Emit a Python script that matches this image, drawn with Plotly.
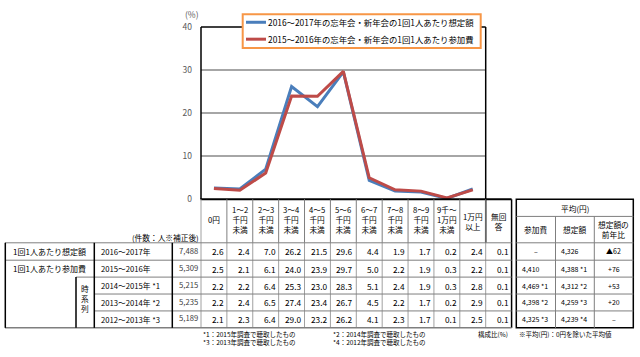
import plotly.graph_objects as go

W, H = 640, 357
FONT = "Noto Sans CJK JP"

# ---------------- data ----------------
header_lines = [["0円"], ["1～2", "千円", "未満"], ["2～3", "千円", "未満"], ["3～4", "千円", "未満"],
                ["4～5", "千円", "未満"], ["5～6", "千円", "未満"], ["6～7", "千円", "未満"],
                ["7～8", "千円", "未満"], ["8～9", "千円", "未満"], ["9千～", "1万円", "未満"],
                ["1万円", "以上"], ["無回", "答"]]
row_groups = ["1回1人あたり想定額", "1回1人あたり参加費"]
row_years = ["2016～2017年", "2015～2016年", "2014～2015年 *1", "2013～2014年 *2", "2012～2013年 *3"]
row_counts = ["7,488", "5,309", "5,215", "5,235", "5,189"]
est_2016_2017 = [2.6, 2.4, 7.0, 26.2, 21.5, 29.6, 4.4, 1.9, 1.7, 0.2, 2.4, 0.1]
spend_2015_2016 = [2.5, 2.1, 6.1, 24.0, 23.9, 29.7, 5.0, 2.2, 1.9, 0.3, 2.2, 0.1]
spend_2014_2015 = [2.2, 2.2, 6.4, 25.3, 23.0, 28.3, 5.1, 2.4, 1.9, 0.3, 2.8, 0.1]
spend_2013_2014 = [2.2, 2.4, 6.5, 27.4, 23.4, 26.7, 4.5, 2.2, 1.7, 0.2, 2.9, 0.1]
spend_2012_2013 = [2.1, 2.3, 6.4, 29.0, 23.2, 26.2, 4.1, 2.3, 1.7, 0.1, 2.5, 0.1]
avg_spend = ["–", "4,410", "4,469 *1", "4,398 *2", "4,325 *3"]
avg_est = ["4,326", "4,388 *1", "4,312 *2", "4,259 *3", "4,239 *4"]
avg_yoy = ["▲62", "+76", "+53", "+20", "–"]
legend_labels = ["2016～2017年の忘年会・新年会の1回1人あたり想定額",
                 "2015～2016年の忘年会・新年会の1回1人あたり参加費"]
notes = ["*1：2015年調査で聴取したもの", "*2：2014年調査で聴取したもの",
         "*3：2013年調査で聴取したもの", "*4：2012年調査で聴取したもの"]
y_ticks = [0, 10, 20, 30, 40]

BLUE = "#4a7ebb"
RED = "#be4b48"
ORANGE = "#f79646"

# ---------------- geometry (pixels) ----------------
X0, X1 = 201.0, 485.7           # plot area
Y0, Y40 = 199.0, 20.7
ncols = 12
cw = (X1 - X0) / 11
col_edges = [X0 + i * cw for i in range(ncols + 1)]
row_edges = [244.0, 262.0, 279.5, 297.0, 314.5, 332.0]

def px(x):
    return x / W

def py(y):
    return 1 - y / H

shapes = []
annotations = []

def line(x0, y0, x1, y1, color="black", width=1, layer="above"):
    shapes.append(dict(type="line", xref="paper", yref="paper", x0=px(x0), y0=py(y0),
                       x1=px(x1), y1=py(y1), line=dict(color=color, width=width), layer=layer))

def text(x, y, s, size=9, xanchor="center", color="black", align="center"):
    annotations.append(dict(x=px(x), y=py(y), xref="paper", yref="paper", text=s, showarrow=False,
                            xanchor=xanchor, yanchor="middle", borderpad=0, align=align,
                            font=dict(family=FONT, size=size, color=color)))

fig = go.Figure()
xs = list(range(11))
fig.add_trace(go.Scatter(x=xs, y=est_2016_2017[:11], mode="lines", line=dict(color=BLUE, width=3),
                         name=legend_labels[0], showlegend=False))
fig.add_trace(go.Scatter(x=xs, y=spend_2015_2016[:11], mode="lines", line=dict(color=RED, width=3),
                         name=legend_labels[1], showlegend=False))

# ---------------- plot frame ----------------
line(X0, Y40, X0, Y0, width=1.5)
line(X0, Y40, X1, Y40, width=1.5)
line(X1, Y40, X1, row_edges[0], width=1.5)
line(X0 - 0.5, Y0, col_edges[-1], Y0, width=2)

# legend
lx0, lx1, ly0, ly1 = 242.7, 480.7, 7.5, 42.3
shapes.append(dict(type="rect", xref="paper", yref="paper", x0=px(lx0), x1=px(lx1), y0=py(ly1), y1=py(ly0),
                   line=dict(color=ORANGE, width=2), fillcolor="white", layer="above"))
for i, (lab, col) in enumerate(zip(legend_labels, [BLUE, RED])):
    yy = 15.8 + i * 17.5
    line(246, yy, 266, yy, color=col, width=3)
    text(266.5, yy, lab, size=8.4, xanchor="left")

text(192, 7.5, "(%)", size=8.5, color="#595959")

# ---------------- table lines ----------------
GRAY = "#a0a0a0"
DGRAY = "#7f7f7f"
for i, xe in enumerate(col_edges[:-1]):
    if i == 0:
        line(xe, Y0, xe, row_edges[-1], color=GRAY, width=1)
    else:
        line(xe, Y0, xe, row_edges[0], color=DGRAY, width=1)
        line(xe, row_edges[0], xe, row_edges[-1], color=GRAY, width=1)
line(col_edges[-1], Y0, col_edges[-1], row_edges[-1], width=1.5)

line(5, row_edges[0], col_edges[-1], row_edges[0], color=DGRAY, width=1)
line(5, row_edges[1], col_edges[-1], row_edges[1], color=DGRAY, width=1)
line(76, row_edges[2], col_edges[-1], row_edges[2], color=DGRAY, width=1)
line(94.3, row_edges[3], col_edges[-1], row_edges[3], color=DGRAY, width=1)
line(94.3, row_edges[4], col_edges[-1], row_edges[4], color=DGRAY, width=1)
line(5, row_edges[5], col_edges[-1], row_edges[5], color=DGRAY, width=1.5)
line(5.3, row_edges[0], 5.3, row_edges[-1], width=1.5)
line(94.3, row_edges[0], 94.3, row_edges[-1], width=1.5)
line(172.3, row_edges[0], 172.3, row_edges[-1], width=1.5)
line(76, row_edges[2], 76, row_edges[-1], width=1.5)

# average table
ax0, ax1, ax2, ax3 = 516.3, 555.5, 594.3, 633.3
shapes.append(dict(type="rect", xref="paper", yref="paper", x0=px(ax0), x1=px(ax3), y0=py(row_edges[-1]),
                   y1=py(Y0), line=dict(color="black", width=1.5), layer="above"))
line(ax0, 216.7, ax3, 216.7, color=DGRAY, width=1)
line(ax1, 216.7, ax1, row_edges[-1], color=DGRAY, width=1)
line(ax2, 216.7, ax2, row_edges[-1], color=DGRAY, width=1)
for ye in row_edges[:-1]:
    line(ax0, ye, ax3, ye, color=DGRAY, width=1)

# ---------------- table text ----------------
for i, lines_ in enumerate(header_lines):
    cx = (col_edges[i] + col_edges[i + 1]) / 2
    n = len(lines_)
    cy = 220.0 if n != 2 else 221.5
    text(cx, cy, "<br>".join(lines_), size=7.7)

text(200, 238.3, "(件数：人※補正後)", size=7.7, xanchor="right")

rows_vals = [est_2016_2017, spend_2015_2016, spend_2014_2015, spend_2013_2014, spend_2012_2013]
row_centers = [(row_edges[k] + row_edges[k + 1]) / 2 for k in range(5)]
text(49.8, row_centers[0], row_groups[0], size=8)
text(49.8, row_centers[1], row_groups[1], size=8)
text(85.2, 301.5, "時<br>系<br>列", size=7.7)

for k in range(5):
    yc = row_centers[k]
    text(100, yc, row_years[k], size=7.7, xanchor="left")
    text(198.5, yc - 1.5, row_counts[k], size=7.7, xanchor="right", color="#404040")
    for i, v in enumerate(rows_vals[k]):
        text(col_edges[i + 1] - 1.8, yc, f"{v:.1f}", size=8.3, xanchor="right")
    if avg_spend[k] == "–":
        text((ax0 + ax1) / 2, yc, avg_spend[k], size=7)
    else:
        text(ax0 + 4.5, yc, avg_spend[k], size=7, xanchor="left")
    text(ax1 + 4.5, yc, avg_est[k], size=7, xanchor="left")
    text((ax2 + ax3) / 2, yc, avg_yoy[k], size=7)

text((ax0 + ax3) / 2, 208, "平均(円)", size=7.7)
text((ax0 + ax1) / 2, 230.5, "参加費", size=7.7)
text((ax1 + ax2) / 2, 230.5, "想定額", size=7.7)
text((ax2 + ax3) / 2, 230.5, "想定額の<br>前年比", size=7.7)

# notes
text(202, 343, notes[0] + "<br>" + notes[2], size=6.5, xanchor="left", align="left")
text(332, 343, notes[1] + "<br>" + notes[3], size=6.5, xanchor="left", align="left")
text(509, 338.5, "構成比(%)", size=6.5, xanchor="right")
text(518, 338.5, "※平均(円)：0円を除いた平均値", size=6.5, xanchor="left")

fig.update_layout(
    width=W, height=H, autosize=False,
    margin=dict(l=0, r=0, t=0, b=0),
    paper_bgcolor="white", plot_bgcolor="white",
    font=dict(family=FONT, size=9, color="black"),
    showlegend=False,
    shapes=shapes, annotations=annotations,
    xaxis=dict(domain=[px(X0), px(X1)], range=[-0.5, 10.5], showgrid=False, zeroline=False,
               showticklabels=False, showline=False, fixedrange=True),
    yaxis=dict(domain=[py(Y0), py(Y40)], range=[0, 40], tickvals=y_ticks, showgrid=True,
               gridcolor="#a6a6a6", gridwidth=1.5, zeroline=False, showline=False,
               tickfont=dict(family=FONT, size=8.5, color="#595959"), ticklabelstandoff=8,
               fixedrange=True),
)

fig.write_html("out.html", config={"displayModeBar": False},
               post_script="document.body.style.margin='0';document.body.style.padding='0';")
